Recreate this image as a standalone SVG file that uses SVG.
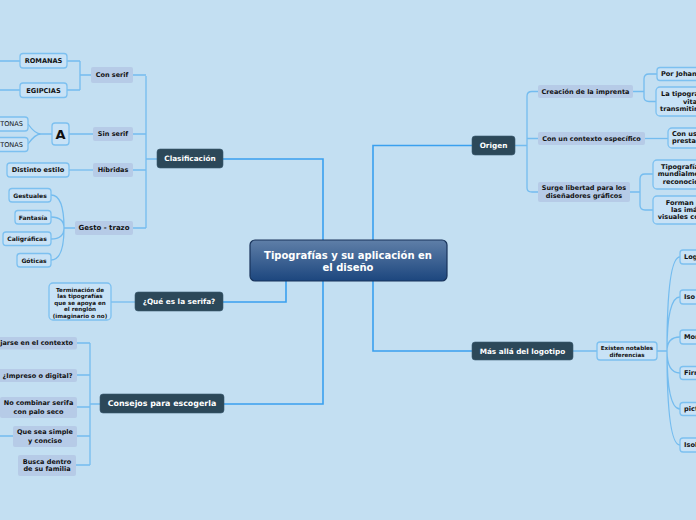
<svg xmlns="http://www.w3.org/2000/svg" width="696" height="520" viewBox="0 0 696 520">
<defs>
<linearGradient id="cg" x1="0" y1="0" x2="0" y2="1">
<stop offset="0" stop-color="#5f7fa8"/>
<stop offset="1" stop-color="#1c467e"/>
</linearGradient>
</defs>
<style>
text{font-family:"DejaVu Sans","Liberation Sans",sans-serif;font-weight:bold;dominant-baseline:central}
.main{fill:url(#cg);stroke:#18335a;stroke-width:1.2}
.main-t{fill:#fff;font-size:10px;text-anchor:middle}
.l1{fill:#2c4859;stroke:#3a5a70;stroke-width:0.6}
.l1-t{fill:#fff;font-size:7.3px;text-anchor:middle}
.l2{fill:#b6cbe7}
.l2-t{fill:#111;font-size:6.5px;text-anchor:middle}
.lf{fill:#c8e2f6;stroke:#7cc0f0;stroke-width:1.3}
.lf-t{fill:#111;font-size:6.6px;text-anchor:middle}
.sm{font-size:5.6px}
.st{text-anchor:start}
.en{text-anchor:end}
.c0{fill:none;stroke:#3aa0ef;stroke-width:1.6}
.c1{fill:none;stroke:#74bcef;stroke-width:1.3}
</style>
<rect width="696" height="520" fill="#c3dff2"/>
<g id="connectors">
<path class="c0" d="M323,240 V159 H223"/>
<path class="c0" d="M373,240 V145.5 H472"/>
<path class="c0" d="M286,281 V302 H223"/>
<path class="c0" d="M323,281 V404 H224"/>
<path class="c0" d="M373,281 V351 H472"/>
<path class="c1" d="M157,159 H146 M146,76 V228 M133,75 H146 M133,134 H146 M133,170 H146 M133,228 H146"/>
<path class="c1" d="M91,75 H80 M80,61 V90 M67,61 H80 M67,90 H80 M0,61 H20 M0,90 H20"/>
<path class="c1" d="M93,134 H69 M52,134 H41 Q35,134 28,124 M41,134 Q35,134 28,144"/>
<path class="c1" d="M93,170 H69"/>
<path class="c1" d="M75,228 H64 M64,228 Q64,195 51,195 M64,228 Q64,217 51,217 M64,228 Q64,239 51,239 M64,228 Q64,260 51,260"/>
<path class="c1" d="M135,302 H111"/>
<path class="c1" d="M100,404 H90 M90,343 V465 M77,343 H90 M77,375 H90 M77,407 H90 M77,436 H90 M76,465 H90 M0,436 H13"/>
<path class="c1" d="M515,145.5 H527 M527,96 Q527,91.5 532,91.5 H538 M527,96 V188 Q527,192 532,192 H538 M527,138.5 H538"/>
<path class="c1" d="M633,91.5 H644 M644,79 Q644,74 649,74 H657 M644,79 V97 Q644,101.5 649,101.5 H656"/>
<path class="c1" d="M645,138.5 H668"/>
<path class="c1" d="M630,192 H640 M640,179 Q640,174 645,174 H653 M640,179 V205 Q640,210 645,210 H653"/>
<path class="c1" d="M573,351 H597 M657,351 H667 M667,351 Q667,257 680,257 M667,351 Q667,297 680,297 M667,351 Q667,337 680,337 M667,351 Q667,373 680,373 M667,351 Q667,409 680,409 M667,351 Q667,445 680,445"/>
</g>
<g id="central"><rect class="main" x="250" y="240" width="197" height="41" rx="5"/><text class="main-t" x="348" y="255">Tipografías y su aplicación en</text><text class="main-t" x="348" y="267.5">el diseño</text></g>
<g id="clasificacion"><rect class="l1" x="157" y="149" width="66" height="19" rx="3"/><text class="l1-t" x="190" y="158.5">Clasificación</text></g>
<g id="que-es-serifa"><rect class="l1" x="135" y="292" width="88" height="19" rx="3"/><text class="l1-t" x="179" y="301.5">¿Qué es la serifa?</text></g>
<g id="consejos"><rect class="l1" x="100" y="394" width="124" height="19" rx="3"/><text class="l1-t" x="162" y="403.5" style="font-size:7.9px">Consejos para escogerla</text></g>
<g id="origen"><rect class="l1" x="472" y="136" width="43" height="19" rx="3"/><text class="l1-t" x="493.5" y="145.5">Origen</text></g>
<g id="mas-alla"><rect class="l1" x="472" y="342" width="101" height="18" rx="3"/><text class="l1-t" x="522.5" y="351">Más allá del logotipo</text></g>
<g id="con-serif"><rect class="l2" x="91" y="67" width="42" height="16" rx="2"/><text class="l2-t" x="112" y="75">Con serif</text></g>
<g id="sin-serif"><rect class="l2" x="93" y="127" width="40" height="14" rx="2"/><text class="l2-t" x="113" y="134">Sin serif</text></g>
<g id="hibridas"><rect class="l2" x="93" y="163" width="40" height="14" rx="2"/><text class="l2-t" x="113" y="170">Híbridas</text></g>
<g id="gesto-trazo"><rect class="l2" x="75" y="221" width="58" height="14" rx="2"/><text class="l2-t" x="104" y="228" style="font-size:7px">Gesto - trazo</text></g>
<g id="romanas"><rect class="lf" x="20" y="53.5" width="47" height="14.5" rx="3"/><text class="lf-t" x="43.5" y="61">ROMANAS</text></g>
<g id="egipcias"><rect class="lf" x="20" y="83" width="47" height="14.5" rx="3"/><text class="lf-t" x="43.5" y="90.5">EGIPCIAS</text></g>
<g id="tonas1"><rect class="lf" x="-10" y="117" width="38" height="14" rx="3"/><text class="lf-t en" x="23" y="124" style="font-weight:normal">TONAS</text></g>
<g id="tonas2"><rect class="lf" x="-10" y="137.5" width="38" height="14" rx="3"/><text class="lf-t en" x="23" y="144.5" style="font-weight:normal">TONAS</text></g>
<g id="letra-a"><rect class="lf" x="52" y="123" width="17" height="22" rx="3"/><text class="lf-t" x="60.5" y="134.5" style="font-size:13px">A</text></g>
<g id="distinto-estilo"><rect class="lf" x="7" y="163" width="62" height="14" rx="3"/><text class="lf-t" x="38" y="170">Distinto estilo</text></g>
<g id="gestuales"><rect class="lf" x="9" y="188.5" width="42" height="13.5" rx="3"/><text class="lf-t sm" x="30" y="195.3" style="font-size:6px">Gestuales</text></g>
<g id="fantasia"><rect class="lf" x="15" y="210.5" width="36" height="13.5" rx="3"/><text class="lf-t" x="33" y="217.3" style="font-size:6px">Fantasía</text></g>
<g id="caligraficas"><rect class="lf" x="3" y="232" width="48" height="13.5" rx="3"/><text class="lf-t" x="27" y="238.8" style="font-size:6px">Caligráficas</text></g>
<g id="goticas"><rect class="lf" x="17" y="253.5" width="34" height="13.5" rx="3"/><text class="lf-t" x="34" y="260.3" style="font-size:6px">Góticas</text></g>
<g id="terminacion"><rect class="lf" x="49" y="283" width="62" height="37" rx="4"/><text class="lf-t sm" x="80" y="289.5">Terminación de</text><text class="lf-t sm" x="80" y="296">las tipografías</text><text class="lf-t sm" x="80" y="302.5">que se apoya en</text><text class="lf-t sm" x="80" y="309">el renglón</text><text class="lf-t sm" x="80" y="315.5">(imaginario o no)</text></g>
<g id="fijarse"><rect class="l2" x="-5" y="337" width="82" height="12.5" rx="2"/><text class="l2-t en" x="73" y="343.2">jarse en el contexto</text></g>
<g id="impreso"><rect class="l2" x="-2" y="369" width="79" height="13" rx="2"/><text class="l2-t" x="37.5" y="375.5">¿Impreso o digital?</text></g>
<g id="no-combinar"><rect class="l2" x="0" y="397" width="77" height="21" rx="2"/><text class="l2-t" x="38.5" y="403.3">No combinar serifa</text><text class="l2-t" x="38.5" y="411.7">con palo seco</text></g>
<g id="simple"><rect class="l2" x="13" y="426" width="64" height="21" rx="2"/><text class="l2-t" x="45" y="432">Que sea simple</text><text class="l2-t" x="45" y="440.7">y conciso</text></g>
<g id="busca"><rect class="l2" x="18" y="455" width="58" height="21" rx="2"/><text class="l2-t" x="47" y="461.7">Busca dentro</text><text class="l2-t" x="47" y="469.3">de su familia</text></g>
<g id="creacion"><rect class="l2" x="538" y="85" width="95" height="13" rx="2"/><text class="l2-t" x="585.5" y="91.5">Creación de la imprenta</text></g>
<g id="contexto"><rect class="l2" x="538" y="132" width="107" height="13" rx="2"/><text class="l2-t" x="591.5" y="138.5">Con un contexto específico</text></g>
<g id="surge"><rect class="l2" x="538" y="182" width="92" height="20" rx="2"/><text class="l2-t" x="584" y="187.5">Surge libertad para los</text><text class="l2-t" x="584" y="196">diseñadores gráficos</text></g>
<g id="por-johann"><rect class="lf" x="657" y="67.5" width="60" height="13" rx="3"/><text class="lf-t st" x="661" y="74">Por Johann</text></g>
<g id="la-tipografia"><rect class="lf" x="656" y="87" width="60" height="29" rx="4"/><text class="lf-t st" x="661" y="94.3">La tipograf</text><text class="lf-t st" x="683" y="101.7">vita</text><text class="lf-t st" x="660" y="109">transmitir</text></g>
<g id="con-usos"><rect class="lf" x="668" y="128" width="60" height="20" rx="4"/><text class="lf-t st" x="672" y="134.3">Con use</text><text class="lf-t st" x="672" y="141.3">prestab</text></g>
<g id="tipografias-mundial"><rect class="lf" x="653" y="160" width="60" height="29" rx="4"/><text class="lf-t st" x="661" y="166.7">Tipografías</text><text class="lf-t st" x="657.7" y="174.3">mundialmen</text><text class="lf-t st" x="662.7" y="181.7">reconocida</text></g>
<g id="forman"><rect class="lf" x="653" y="196" width="60" height="28" rx="4"/><text class="lf-t st" x="665.7" y="202.7">Forman p</text><text class="lf-t st" x="671" y="210">las imá</text><text class="lf-t st" x="657.7" y="216.7">visuales co</text></g>
<g id="existen"><rect class="lf" x="597" y="342" width="60" height="18" rx="3"/><text class="lf-t sm" x="627" y="348.3">Existen notables</text><text class="lf-t sm" x="627" y="355">diferencias</text></g>
<g id="log"><rect class="lf" x="680" y="250" width="40" height="14" rx="3"/><text class="lf-t st" x="684" y="257">Log</text></g>
<g id="iso"><rect class="lf" x="680" y="290" width="40" height="14" rx="3"/><text class="lf-t st" x="684" y="297">Iso</text></g>
<g id="mon"><rect class="lf" x="680" y="330" width="40" height="14" rx="3"/><text class="lf-t st" x="684" y="337">Mon</text></g>
<g id="firm"><rect class="lf" x="680" y="366.5" width="40" height="13" rx="3"/><text class="lf-t st" x="684" y="373">Firm</text></g>
<g id="pict"><rect class="lf" x="680" y="402.5" width="40" height="13" rx="3"/><text class="lf-t st" x="684" y="409">pict</text></g>
<g id="isol"><rect class="lf" x="680" y="438" width="40" height="14" rx="3"/><text class="lf-t st" x="684" y="445">Isol</text></g>
</svg>
